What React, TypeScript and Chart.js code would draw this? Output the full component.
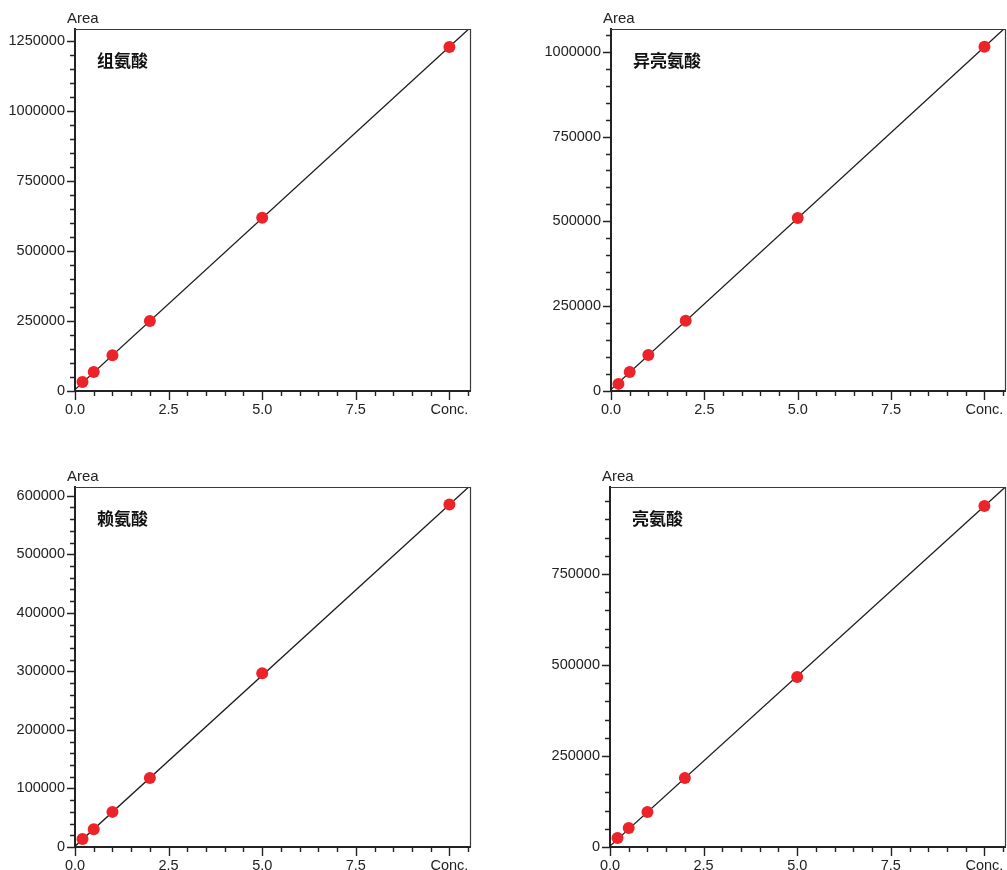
import React, { useEffect, useRef } from 'react';
import { Chart, registerables } from 'chart.js';

Chart.register(...registerables);

// ---- data ----
const conc = [0.2, 0.5, 1, 2, 5, 10];
const hisArea = [32000, 68000, 128000, 250000, 618000, 1228000];
const ileArea = [21000, 56000, 106000, 207000, 510000, 1015000];
const lysArea = [13500, 30500, 60000, 118000, 297000, 585000];
const leuArea = [24500, 52000, 96000, 189500, 467000, 937000];

// regression line end points (x = 0 and x = 10.55)
const X_MAX = 10.55;
const lineX = [0, 10.55];
const hisLine = [5000, 1296000];
const ileLine = [4400, 1070000];
const lysLine = [1300, 617000];
const leuLine = [2700, 988000];

const xLabels: Record<string, string> = { '0': '0.0', '2.5': '2.5', '5': '5.0', '7.5': '7.5', '10': 'Conc.' };
const titles = ['组氨酸', '异亮氨酸', '赖氨酸', '亮氨酸'];

const FONT = '"Liberation Sans", Arial, Helvetica, sans-serif';
const CJK = '"Noto Sans CJK SC", "Noto Sans CJK TC", sans-serif';

type PanelCfg = {
  title: string;
  area: number[];
  line: number[];
  yMax: number;
  yMinor: number;
  yMajor: number;
  plotLeft: number;
  plotTop: number;
  plotRight: number;
  plotBottom: number;
};

const panels: PanelCfg[] = [
  { title: titles[0], area: hisArea, line: hisLine, yMax: 1292000, yMinor: 50000, yMajor: 250000, plotLeft: 75, plotTop: 29, plotRight: 470, plotBottom: 391 },
  { title: titles[1], area: ileArea, line: ileLine, yMax: 1067000, yMinor: 50000, yMajor: 250000, plotLeft: 611, plotTop: 29, plotRight: 1005, plotBottom: 391 },
  { title: titles[2], area: lysArea, line: lysLine, yMax: 615000, yMinor: 20000, yMajor: 100000, plotLeft: 75, plotTop: 487, plotRight: 470, plotBottom: 847 },
  { title: titles[3], area: leuArea, line: leuLine, yMax: 989000, yMinor: 50000, yMajor: 250000, plotLeft: 610, plotTop: 487, plotRight: 1005, plotBottom: 847 },
];

const AXIS_W = 75;
const TOP_PAD = 29;
const PAD_R = 12;

function Panel({ cfg }: { cfg: PanelCfg }) {
  const ref = useRef<HTMLCanvasElement | null>(null);
  const left = cfg.plotLeft - AXIS_W;
  const top = cfg.plotTop - TOP_PAD;
  const xH = Math.min(30, 870 - cfg.plotBottom);
  const width = cfg.plotRight - left + PAD_R;
  const height = cfg.plotBottom - top + xH;

  useEffect(() => {
    if (!ref.current) return;
    const xTicks: number[] = [];
    for (let i = 0; i <= 21; i++) xTicks.push(i * 0.5);
    const yTicks: number[] = [];
    for (let v = 0; v <= cfg.yMax; v += cfg.yMinor) yTicks.push(v);

    const decor = {
      id: 'decor',
      afterDraw(chart: any) {
        const { ctx, chartArea } = chart;
        const xs = chart.scales.x;
        const ys = chart.scales.y;
        ctx.save();
        // frame top & right
        ctx.strokeStyle = '#3a3a3a';
        ctx.lineWidth = 1.2;
        ctx.beginPath();
        ctx.moveTo(chartArea.left, chartArea.top + 0.5);
        ctx.lineTo(chartArea.right + 0.5, chartArea.top + 0.5);
        ctx.lineTo(chartArea.right + 0.5, chartArea.bottom);
        ctx.stroke();
        // tick marks
        ctx.strokeStyle = '#222';
        ctx.lineWidth = 1.4;
        ctx.beginPath();
        for (const t of xs.ticks) {
          const px = Math.round(xs.getPixelForValue(t.value)) + 0.5;
          const major = Math.abs(t.value / 2.5 - Math.round(t.value / 2.5)) < 1e-6;
          const len = major ? 9 : 5;
          ctx.moveTo(px, chartArea.bottom);
          ctx.lineTo(px, chartArea.bottom + len);
        }
        for (const t of ys.ticks) {
          const py = Math.round(ys.getPixelForValue(t.value)) + 0.5;
          const major = t.value % cfg.yMajor === 0;
          const len = major ? 8 : 5;
          ctx.moveTo(chartArea.left, py);
          ctx.lineTo(chartArea.left - len, py);
        }
        ctx.stroke();
        // "Area" label
        ctx.fillStyle = '#222';
        ctx.font = `15px ${FONT}`;
        ctx.textAlign = 'left';
        ctx.textBaseline = 'middle';
        ctx.fillText('Area', chartArea.left - 8, chartArea.top - 10);
        // title
        ctx.fillStyle = '#111';
        ctx.font = `bold 17px ${CJK}`;
        ctx.fillText(cfg.title, chartArea.left + 22, chartArea.top + 32);
        ctx.restore();
      },
    };

    const chart = new Chart(ref.current, {
      type: 'scatter',
      data: {
        datasets: [
          {
            type: 'scatter',
            data: conc.map((c, i) => ({ x: c, y: cfg.area[i] })),
            backgroundColor: '#ec2329',
            borderWidth: 0,
            pointRadius: 6,
            pointHoverRadius: 6,
          },
          {
            type: 'line',
            data: lineX.map((x, i) => ({ x, y: cfg.line[i] })),
            borderColor: '#1a1a1a',
            borderWidth: 1.3,
            pointRadius: 0,
            fill: false,
          } as any,
        ],
      },
      options: {
        animation: false,
        responsive: false,
        maintainAspectRatio: false,
        devicePixelRatio: 1,
        layout: { padding: { top: TOP_PAD, right: PAD_R, left: 0, bottom: 0 } },
        plugins: { legend: { display: false }, tooltip: { enabled: false } },
        events: [],
        scales: {
          x: {
            type: 'linear',
            min: 0,
            max: X_MAX,
            grid: { display: false, tickLength: 10 },
            border: { display: true, color: '#222', width: 2 },
            ticks: {
              autoSkip: false,
              maxRotation: 0,
              padding: 0,
              color: '#222',
              font: { family: FONT, size: 14.5 },
              callback: (v: any) => {
                const key = String(Math.round(Number(v) * 10) / 10);
                return xLabels[key] ?? '';
              },
            },
            afterBuildTicks: (s: any) => {
              s.ticks = xTicks.map((v) => ({ value: v }));
            },
            afterFit: (s: any) => {
              s.height = xH;
            },
          },
          y: {
            type: 'linear',
            min: 0,
            max: cfg.yMax,
            grid: { display: false, tickLength: 10 },
            border: { display: true, color: '#222', width: 2 },
            ticks: {
              autoSkip: false,
              padding: 0,
              color: '#222',
              font: { family: FONT, size: 14.5 },
              callback: (v: any) => (Number(v) % cfg.yMajor === 0 ? String(v) : ''),
            },
            afterBuildTicks: (s: any) => {
              s.ticks = yTicks.map((v) => ({ value: v }));
            },
            afterFit: (s: any) => {
              s.width = AXIS_W;
            },
          },
        },
      } as any,
      plugins: [decor],
    });
    return () => chart.destroy();
  }, []);

  return (
    <canvas
      ref={ref}
      width={width}
      height={height}
      style={{ position: 'absolute', left, top, width, height }}
    />
  );
}

export default function App() {
  return (
    <div style={{ position: 'absolute', left: 0, top: 0, width: 1007, height: 870, overflow: 'hidden', background: '#fff' }}>
      {panels.map((p, i) => (
        <Panel key={i} cfg={p} />
      ))}
    </div>
  );
}
